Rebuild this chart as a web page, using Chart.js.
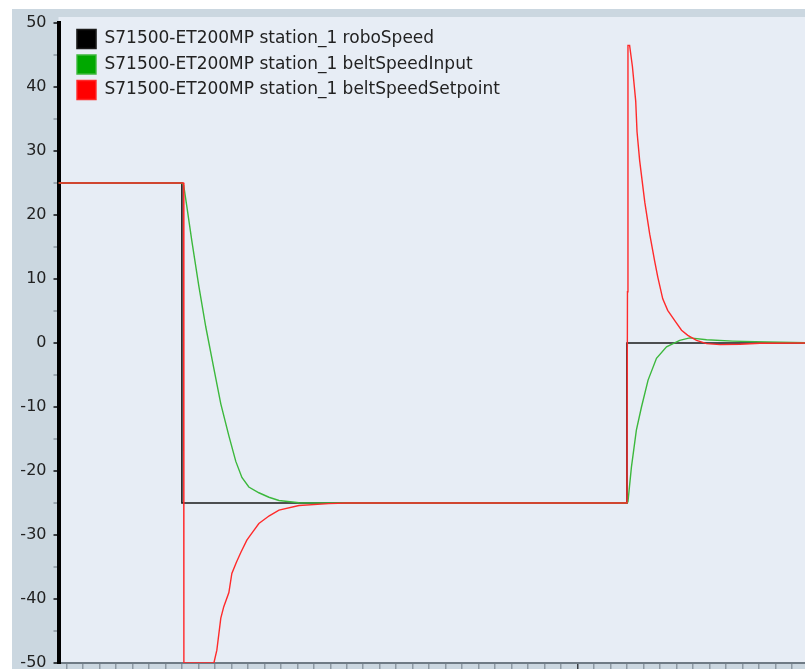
<!DOCTYPE html>
<html>
<head>
<meta charset="utf-8">
<style>
  html, body { margin: 0; padding: 0; background: #fff; }
  #wrap { width: 805px; height: 669px; overflow: hidden; }
</style>
</head>
<body>
<div id="wrap"><canvas id="plot" width="805" height="669"></canvas></div>
<script src="https://cdn.jsdelivr.net/npm/chart.js@4/dist/chart.umd.min.js"></script>
<script>
const seriesLabels = [
    'S71500-ET200MP station_1 roboSpeed',
    'S71500-ET200MP station_1 beltSpeedInput',
    'S71500-ET200MP station_1 beltSpeedSetpoint'
];

// time axis (one minor tick per unit)
const roboTime  = [-0.5, 7, 7, 34, 34, 44.8];
const roboSpeed = [25, 25, -25, -25, 0, 0];

const inputTime = [-0.5, 7.0, 7.11, 7.29, 7.6, 8.02, 8.45, 8.94, 9.36, 9.85, 10.27, 10.64, 11.06, 11.67, 12.28, 12.89, 14.1, 16,
                   34.0, 34.06, 34.27, 34.57, 34.88, 35.28, 35.79, 36.4, 37.2, 37.81, 38.83, 40.43, 42.47, 44.8];
const beltSpeedInput = [25, 25, 24.6, 21.5, 16, 9, 2.5, -4, -9.5, -14.5, -18.5, -21, -22.5, -23.4, -24.1, -24.6, -24.95, -25,
                   -25, -24.8, -19.4, -13.6, -10, -5.8, -2.4, -0.6, 0.4, 0.8, 0.5, 0.3, 0.15, 0.05];

const setpointTime = [-0.5, 7.0, 7.1, 7.12, 8.94, 9.12, 9.36, 9.54, 9.85, 10.03, 10.3, 10.58, 10.94, 11.3, 11.67, 12.3, 12.89, 14.1, 15.9, 17,
                   34.0, 34.03, 34.06, 34.16, 34.33, 34.53, 34.61, 34.77, 35.08, 35.38, 35.68, 35.87, 36.17, 36.47, 36.9, 37.31, 37.69, 38.22, 38.83, 39.64, 40.85, 42.07, 44.8];
const beltSpeedSetpoint = [25, 25, 25, -50, -50, -48, -43, -41.2, -39, -36, -34.3, -32.7, -30.8, -29.5, -28.2, -27, -26.1, -25.4, -25.1, -25,
                   -25, 8, 46.5, 46.5, 43.2, 37.8, 33, 28.5, 22, 17, 12.8, 10.3, 6.9, 5.1, 3.5, 2, 1.2, 0.4, -0.1, -0.25, -0.2, -0.05, 0];

const xMin = -0.486, xMax = 44.8, xMajorTick = 31;

function points(xs, ys) {
    return xs.map((x, i) => ({ x: x, y: ys[i] }));
}

const panelBackground = {
    id: 'panelBackground',
    afterLayout(chart) {
        // legend sits in the top-left corner of the plot
        const lg = chart.legend;
        if (lg) {
            const h = lg.height;
            lg.left = chart.chartArea.left + 12;
            lg.right = lg.left + lg.width;
            lg.top = chart.chartArea.top;
            lg.bottom = lg.top + h;
        }
    },
    beforeDraw(chart) {
        const { ctx, width, height, chartArea } = chart;
        ctx.save();
        ctx.fillStyle = '#ffffff';
        ctx.fillRect(0, 0, width, height);
        ctx.fillStyle = '#cbd7e0';
        ctx.fillRect(12, 9, width - 12, height - 9);
        ctx.fillStyle = '#e7edf5';
        ctx.fillRect(chartArea.left, 17, width - chartArea.left, chartArea.bottom - 17);
        ctx.restore();
    }
};

const ctx = document.getElementById('plot').getContext('2d');

new Chart(ctx, {
    type: 'line',
    data: {
        datasets: [{
            label: seriesLabels[0],
            data: points(roboTime, roboSpeed),
            borderColor: '#1a1a1a',
            backgroundColor: '#000000',
            borderWidth: 1.6,
            order: 3
        }, {
            label: seriesLabels[1],
            data: points(inputTime, beltSpeedInput),
            borderColor: '#3cb83c',
            backgroundColor: '#00a800',
            borderWidth: 1.4,
            order: 2
        }, {
            label: seriesLabels[2],
            data: points(setpointTime, beltSpeedSetpoint),
            borderColor: '#ff2a2a',
            backgroundColor: '#ff0000',
            borderWidth: 1.4,
            order: 1
        }]
    },
    options: {
        responsive: false,
        devicePixelRatio: 1,
        animation: false,
        events: [],
        elements: { point: { radius: 0 }, line: { tension: 0 } },
        layout: { padding: { top: 23, left: 12, right: 0, bottom: 0 } },
        plugins: {
            tooltip: { enabled: false },
            legend: {
                position: 'chartArea',
                align: 'start',
                labels: {
                    boxWidth: 19,
                    boxHeight: 19,
                    padding: 6.5,
                    color: '#222',
                    font: { family: 'DejaVu Sans', size: 17 },
                    sort: (a, b) => a.datasetIndex - b.datasetIndex
                }
            }
        },
        scales: {
            x: {
                type: 'linear',
                min: xMin,
                max: xMax,
                ticks: { display: false, stepSize: 1, includeBounds: false },
                grid: {
                    drawOnChartArea: false,
                    tickLength: 6,
                    lineWidth: 1.5,
                    color: (c) => (c.tick && c.tick.value === xMajorTick) ? '#3a3f44' : '#8d99a3'
                },
                border: { color: '#6f7b85', width: 2 },
                afterFit(s) { s.height = 6; s.paddingLeft = 0; s.paddingRight = 0; }
            },
            y: {
                min: -50,
                max: 50,
                ticks: {
                    stepSize: 5,
                    padding: 7,
                    color: '#222',
                    font: { family: 'DejaVu Sans', size: 16 },
                    callback: (v) => (v % 10 === 0 ? v : '')
                },
                grid: {
                    drawOnChartArea: false,
                    tickLength: 5,
                    lineWidth: 2,
                    color: (c) => (c.tick && c.tick.value % 10 === 0) ? '#3a3f44' : '#9aa6b0'
                },
                border: { color: '#000000', width: 4 },
                afterFit(s) { s.width = 46.5; s.paddingTop = 0; s.paddingBottom = 0; }
            }
        }
    },
    plugins: [panelBackground]
});
</script>
</body>
</html>
